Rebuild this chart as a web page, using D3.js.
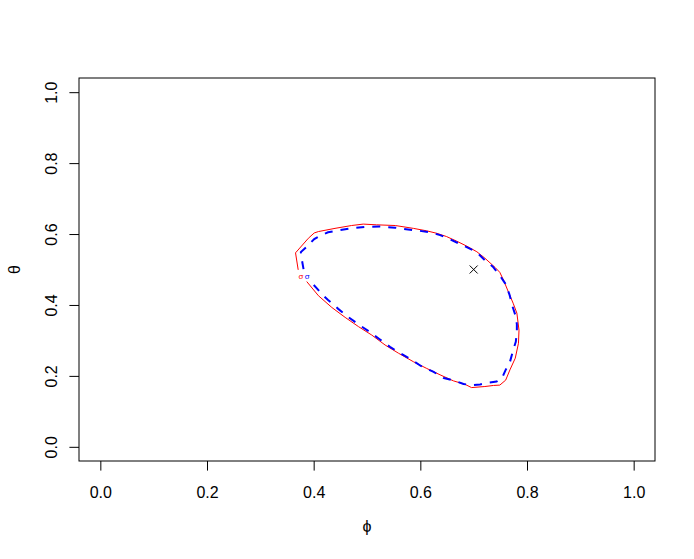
<!DOCTYPE html>
<html>
<head>
<meta charset="utf-8">
<script src="https://cdn.jsdelivr.net/npm/d3@7"></script>
<style>
  body { margin: 0; background: #fff; }
  text { font-family: "Liberation Sans", Arial, sans-serif; }
</style>
</head>
<body>
<svg id="chart"></svg>
<script>
// contour 1 (red, solid)
const phiRed = [0.371,0.366,0.390,0.401,0.409,0.440,0.471,0.493,0.518,0.553,0.587,0.612,0.631,0.649,0.668,0.687,0.706,0.721,0.740,0.749,0.756,0.765,0.774,0.781,0.785,0.784,0.778,0.768,0.760,0.749,0.737,0.721,0.696,0.684,0.662,0.637,0.612,0.587,0.559,0.534,0.509,0.484,0.459,0.434,0.409,0.387]
const thetaRed = [0.499,0.547,0.588,0.603,0.607,0.616,0.624,0.628,0.626,0.624,0.616,0.609,0.602,0.593,0.580,0.566,0.550,0.532,0.506,0.492,0.470,0.437,0.405,0.377,0.329,0.292,0.250,0.217,0.188,0.174,0.173,0.170,0.167,0.176,0.186,0.203,0.221,0.240,0.264,0.287,0.315,0.339,0.365,0.393,0.426,0.466]

// contour 2 (blue, dashed)
const phiBlue = [0.381,0.377,0.376,0.387,0.401,0.412,0.427,0.449,0.471,0.496,0.524,0.553,0.577,0.599,0.621,0.637,0.652,0.674,0.698,0.711,0.724,0.736,0.749,0.759,0.767,0.773,0.778,0.781,0.781,0.779,0.774,0.768,0.760,0.753,0.743,0.727,0.712,0.696,0.681,0.665,0.644,0.624,0.601,0.584,0.562,0.543,0.523,0.504,0.485,0.464,0.446,0.427,0.415,0.406,0.396]
const thetaBlue = [0.501,0.535,0.549,0.564,0.586,0.595,0.605,0.611,0.616,0.620,0.621,0.618,0.613,0.609,0.604,0.597,0.588,0.572,0.555,0.541,0.522,0.508,0.483,0.461,0.430,0.395,0.372,0.346,0.324,0.296,0.273,0.239,0.217,0.193,0.184,0.181,0.176,0.174,0.177,0.186,0.194,0.212,0.228,0.245,0.264,0.282,0.304,0.325,0.344,0.367,0.389,0.414,0.431,0.447,0.463]

// contour labels (sit in the gap of each line)
const contourLabels = [
  {phi: 0.376, theta: 0.482, text: "σ", color: "#ff0000"},
  {phi: 0.388, theta: 0.482, text: "σ", color: "#0000ff"}
]

// true value marker
const truePhi = [0.70]
const trueTheta = [0.50]

const ticks = [0, 0.2, 0.4, 0.6, 0.8, 1.0]

const W = 694, H = 559
const mLeft = 79, mRight = 655, mTop = 78, mBottom = 461

const svg = d3.select("#chart").attr("width", W).attr("height", H)
svg.append("rect").attr("width", W).attr("height", H).attr("fill", "#fff")

const x = d3.scaleLinear().domain([-0.04, 1.04]).range([mLeft, mRight])
const y = d3.scaleLinear().domain([-0.04, 1.04]).range([mBottom, mTop])

const line = d3.line().x(d => x(d[0])).y(d => y(d[1]))

svg.append("path")
  .datum(d3.zip(phiRed, thetaRed))
  .attr("d", line)
  .attr("fill", "none")
  .attr("stroke", "#ff0000")
  .attr("stroke-width", 1)

svg.append("path")
  .datum(d3.zip(phiBlue, thetaBlue))
  .attr("d", line)
  .attr("fill", "none")
  .attr("stroke", "#0000ff")
  .attr("stroke-width", 2)
  .attr("stroke-dasharray", "8,8")

svg.append("g")
  .selectAll("text")
  .data(contourLabels)
  .enter().append("text")
  .attr("x", d => x(d.phi))
  .attr("y", d => y(d.theta))
  .attr("dy", "0.35em")
  .attr("text-anchor", "middle")
  .attr("font-size", 8)
  .attr("fill", d => d.color)
  .text(d => d.text)

// pch = 4 cross
const cross = svg.append("g")
  .selectAll("g")
  .data(d3.zip(truePhi, trueTheta))
  .enter().append("g")
  .attr("transform", d => `translate(${x(d[0])},${y(d[1])})`)
cross.append("line").attr("x1", -4).attr("y1", -4).attr("x2", 4).attr("y2", 4)
  .attr("stroke", "#000")
cross.append("line").attr("x1", -4).attr("y1", 4).attr("x2", 4).attr("y2", -4)
  .attr("stroke", "#000")

// axes
const xAxis = svg.append("g")
  .attr("transform", `translate(0,${mBottom})`)
  .call(d3.axisBottom(x).tickValues(ticks).tickFormat(d3.format(".1f"))
    .tickSize(9.6).tickPadding(16))
xAxis.select(".domain").remove()

const yAxis = svg.append("g")
  .attr("transform", `translate(${mLeft},0)`)
  .call(d3.axisLeft(y).tickValues(ticks).tickFormat(d3.format(".1f"))
    .tickSize(9.6))
yAxis.select(".domain").remove()
yAxis.selectAll("text")
  .attr("x", null).attr("dy", null)
  .attr("text-anchor", "middle")
  .attr("transform", "translate(-22,0) rotate(-90)")

svg.selectAll(".tick text").attr("font-size", 16).attr("fill", "#000")
  .attr("font-family", "Liberation Sans, Arial, sans-serif")
svg.selectAll(".tick line").attr("stroke", "#000")

svg.append("rect")
  .attr("x", mLeft).attr("y", mTop)
  .attr("width", mRight - mLeft).attr("height", mBottom - mTop)
  .attr("fill", "none").attr("stroke", "#000")

// axis titles
svg.append("text")
  .attr("x", (mLeft + mRight) / 2).attr("y", 532)
  .attr("text-anchor", "middle").attr("font-size", 16)
  .text("ϕ")

svg.append("text")
  .attr("transform", `translate(20,${(mTop + mBottom) / 2}) rotate(-90)`)
  .attr("text-anchor", "middle").attr("font-size", 16)
  .text("θ")
</script>
</body>
</html>
